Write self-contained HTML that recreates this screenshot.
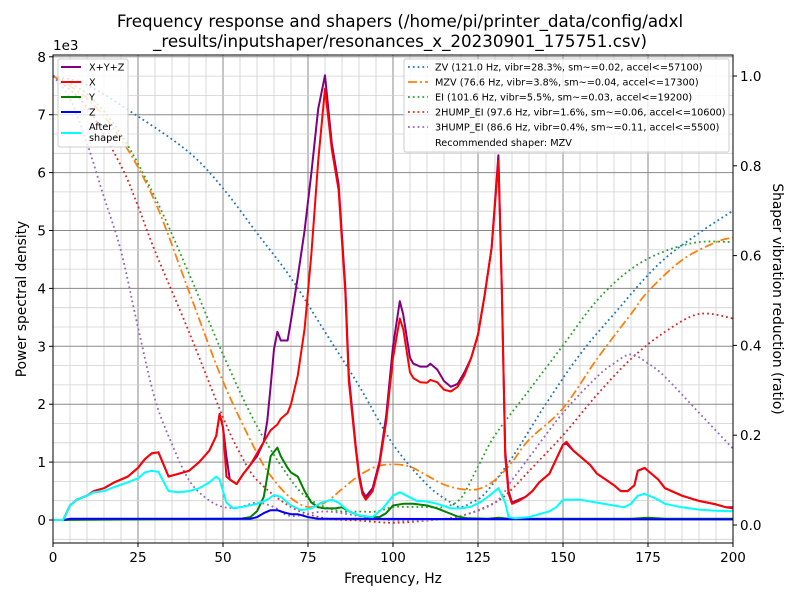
<!DOCTYPE html>
<html><head><meta charset="utf-8">
<style>
body{margin:0;background:#fff;}
svg{display:block;font-family:"DejaVu Sans","Liberation Sans",sans-serif;}
</style></head>
<body>
<svg id="chart" width="800" height="600" viewBox="0 0 800 600" xmlns="http://www.w3.org/2000/svg">
<rect width="800" height="600" fill="#fff"/>
<text x="400" y="27" font-size="16.7" text-anchor="middle">Frequency response and shapers (/home/pi/printer_data/config/adxl</text>
<text x="400" y="47" font-size="16.7" text-anchor="middle">_results/inputshaper/resonances_x_20230901_175751.csv)</text>
<g id="grid"></g>
<g id="marks"></g>
<g id="axes"></g>
<g id="legends"></g>
</svg>
<script>
// ---- data ----
const freqPsd = [0,3,5,7,10,12,15,18,22,25,27,29,31,34,37,40,43,46,48,49,50,51,52,54,56,58,60,62,63,64,65,66,67,69,70,72,74,76,78,80,82,84,86,87,89,90,91,92,94,96,98,100,102,103,105,106,108,110,111,113,115,117,119,121,123,125,127,129,131,132,133,134,135,137,139,141,143,146,148,150,151,153,155,158,160,163,165,167,169,171,172,174,176,178,180,185,190,195,198,200];
const psdXYZ = [0,0,0.25,0.35,0.42,0.5,0.55,0.65,0.75,0.9,1.05,1.15,1.17,0.75,0.8,0.85,1.0,1.2,1.45,1.83,1.6,1.1,0.7,0.62,0.8,0.95,1.1,1.35,1.7,2.3,2.95,3.25,3.1,3.1,3.45,4.2,5.0,6.0,7.1,7.68,6.5,5.8,4.0,2.5,1.3,0.8,0.5,0.4,0.55,1.0,1.8,3.0,3.78,3.55,2.8,2.7,2.65,2.65,2.7,2.6,2.4,2.3,2.35,2.55,2.8,3.2,3.9,4.7,6.3,4.0,1.2,0.5,0.3,0.35,0.4,0.5,0.65,0.8,1.05,1.3,1.32,1.2,1.1,0.95,0.8,0.68,0.6,0.5,0.5,0.6,0.85,0.9,0.8,0.7,0.55,0.42,0.33,0.27,0.22,0.22];
const psdX = [0,0,0.25,0.35,0.42,0.5,0.55,0.65,0.75,0.9,1.05,1.15,1.17,0.75,0.8,0.85,1.0,1.2,1.45,1.83,1.6,0.75,0.7,0.62,0.8,0.95,1.15,1.35,1.45,1.55,1.6,1.65,1.75,1.85,2.0,2.5,3.3,4.6,6.2,7.45,6.4,5.7,3.9,2.4,1.25,0.75,0.45,0.35,0.5,0.95,1.7,2.8,3.48,3.3,2.55,2.45,2.38,2.37,2.42,2.38,2.25,2.22,2.3,2.5,2.8,3.2,3.9,4.7,6.2,4.0,1.1,0.45,0.28,0.33,0.4,0.5,0.65,0.8,1.05,1.3,1.35,1.2,1.1,0.95,0.8,0.68,0.6,0.5,0.5,0.6,0.85,0.9,0.8,0.7,0.55,0.42,0.33,0.27,0.22,0.2];
const freqY = [0,55,58,60,62,63,64,66,67,69,70,72,74,76,78,80,83,85,87,90,93,96,98,100,103,106,110,113,116,119,122,128,131,134,150,170,175,180,200];
const psdY = [0,0.02,0.05,0.15,0.4,0.75,1.1,1.25,1.1,0.9,0.82,0.75,0.5,0.3,0.22,0.2,0.2,0.22,0.15,0.08,0.05,0.05,0.12,0.25,0.28,0.28,0.25,0.2,0.13,0.06,0.03,0.02,0.04,0.02,0.02,0.02,0.04,0.02,0.02];
const freqZ = [0,3,5,58,60,62,64,66,68,70,72,75,78,200];
const psdZ = [0,0,0.02,0.02,0.05,0.12,0.17,0.17,0.13,0.1,0.1,0.05,0.02,0.01];
const freqAfter = [0,3,5,7,10,12,15,18,22,25,27,29,31,34,37,40,43,46,48,49,51,53,56,60,63,65,67,70,73,76,79,82,84,87,90,94,97,100,102,104,107,110,113,117,120,123,126,129,131,133,134,136,140,143,146,148,150,155,160,165,168,170,172,174,177,180,185,190,195,200];
const psdAfter = [0,0,0.25,0.35,0.42,0.48,0.5,0.57,0.65,0.72,0.82,0.85,0.83,0.5,0.48,0.5,0.55,0.65,0.75,0.7,0.3,0.2,0.23,0.28,0.35,0.43,0.4,0.25,0.17,0.2,0.3,0.35,0.3,0.15,0.08,0.05,0.2,0.42,0.48,0.42,0.33,0.32,0.28,0.2,0.2,0.23,0.32,0.45,0.55,0.3,0.05,0.03,0.05,0.1,0.15,0.22,0.35,0.35,0.3,0.25,0.22,0.28,0.42,0.45,0.38,0.28,0.22,0.18,0.16,0.15];
const freqZV = [0,10,25,40,50,60,70,80,90,100,110,117,120,123,127,135,145,155,165,178,190,200];
const shZV = [1.0,0.98,0.91,0.83,0.75,0.65,0.55,0.43,0.31,0.18,0.09,0.05,0.04,0.05,0.07,0.15,0.27,0.38,0.47,0.58,0.65,0.70];
const freqMZV = [0,10,20,30,40,50,60,65,70,75,80,85,90,95,100,105,110,115,120,125,130,135,140,150,160,170,175,185,195,200];
const shMZV = [1.0,0.95,0.86,0.72,0.52,0.32,0.16,0.1,0.06,0.04,0.05,0.08,0.11,0.13,0.135,0.13,0.11,0.09,0.08,0.08,0.1,0.14,0.19,0.26,0.37,0.47,0.52,0.59,0.63,0.64];
const freqEI = [0,10,20,30,40,50,60,70,75,80,85,90,95,100,105,110,115,120,125,130,140,150,160,170,180,190,200];
const shEI = [1.0,0.96,0.87,0.73,0.56,0.38,0.22,0.1,0.06,0.04,0.03,0.03,0.03,0.04,0.04,0.04,0.04,0.06,0.13,0.2,0.3,0.4,0.5,0.57,0.61,0.63,0.63];
const freq2H = [0,10,20,25,30,40,50,55,60,70,80,90,100,110,120,130,135,140,150,160,170,180,190,200];
const sh2H = [1.0,0.93,0.8,0.71,0.61,0.43,0.24,0.16,0.1,0.04,0.015,0.01,0.005,0.01,0.02,0.05,0.08,0.12,0.2,0.29,0.37,0.43,0.47,0.46];
const freq3H = [0,5,10,15,20,25,30,35,40,45,50,55,60,65,70,80,90,100,110,120,130,135,140,150,160,165,170,175,180,190,200];
const sh3H = [1.0,0.95,0.85,0.73,0.61,0.44,0.28,0.18,0.1,0.06,0.04,0.04,0.05,0.04,0.02,0.03,0.02,0.01,0.01,0.02,0.05,0.1,0.15,0.25,0.33,0.36,0.38,0.36,0.33,0.25,0.17];
const xTicks = [0,25,50,75,100,125,150,175,200];
const yTicks = [0,1,2,3,4,5,6,7,8];
const rTicks = [0,0.2,0.4,0.6,0.8,1.0];

// ---- scales ----
const L=53,R=733,T=55,B=543;
const xs = f => L + f*3.4;
const ys = v => 520 - v*57.9;
const rs = r => 525 - r*449;
const NS="http://www.w3.org/2000/svg";
function mk(tag, attrs, parent){const e=document.createElementNS(NS,tag);for(const k in attrs)e.setAttribute(k,attrs[k]);parent.appendChild(e);return e;}
const grid=document.getElementById('grid'), marks=document.getElementById('marks'), axes=document.getElementById('axes'), leg=document.getElementById('legends');

// grid
for(let f=0;f<=200;f+=5){
  const major = f%25===0;
  const g=mk('line',{x1:xs(f),x2:xs(f),y1:T,y2:B,stroke:major?'#8a8a8a':'#d0d0d0','stroke-width':major?1:0.8},grid);
  
  
}
for(let i=-1;i<=24;i++){
  const v=i/3; const y=ys(v); if(y<T||y>B) continue;
  const major = i%3===0;
  const g=mk('line',{x1:L,x2:R,y1:y,y2:y,stroke:major?'#8a8a8a':'#d0d0d0','stroke-width':major?1:0.8},grid);
  
  
}

function line(fs, vs, sc, color, w, dash, name, smooth){
  const P = fs.map((f,i)=>[xs(f), sc(vs[i])]);
  let d = 'M'+P[0][0].toFixed(1)+','+P[0][1].toFixed(1);
  for(let i=1;i<P.length;i++){
    if(smooth){
      const p0=P[Math.max(0,i-2)],p1=P[i-1],p2=P[i],p3=P[Math.min(P.length-1,i+1)];
      const c1=[p1[0]+(p2[0]-p0[0])/6,p1[1]+(p2[1]-p0[1])/6];
      const c2=[p2[0]-(p3[0]-p1[0])/6,p2[1]-(p3[1]-p1[1])/6];
      d+='C'+c1[0].toFixed(1)+','+c1[1].toFixed(1)+' '+c2[0].toFixed(1)+','+c2[1].toFixed(1)+' '+p2[0].toFixed(1)+','+p2[1].toFixed(1);
    } else d+='L'+P[i][0].toFixed(1)+','+P[i][1].toFixed(1);
  }
  const p=mk('path',{d:d,fill:'none',stroke:color,'stroke-width':w,'stroke-linejoin':'round'},marks);
  if(dash) p.setAttribute('stroke-dasharray',dash);
  
  
}
const DOT='1.8 3';
// shapers (right axis)
line(freqZV,shZV,rs,'#1f77b4',1.8,DOT,'shaper-zv-line',true);
line(freqMZV,shMZV,rs,'#ff7f0e',1.8,'9 3 2 3','shaper-mzv-line',true);
line(freqEI,shEI,rs,'#2ca02c',1.8,DOT,'shaper-ei-line',true);
line(freq2H,sh2H,rs,'#d62728',1.8,DOT,'shaper-2hump-ei-line',true);
line(freq3H,sh3H,rs,'#9467bd',1.8,DOT,'shaper-3hump-ei-line',true);
// psd (left axis)
line(freqPsd,psdXYZ,ys,'purple',2,null,'psd-xyz-line');
line(freqPsd,psdX,ys,'red',2,null,'psd-x-line');
line(freqY,psdY,ys,'green',2,null,'psd-y-line');
line(freqZ,psdZ,ys,'blue',2,null,'psd-z-line');
line(freqAfter,psdAfter,ys,'cyan',2,null,'psd-after-shaper-line');

// frame
const fr=mk('rect',{x:L,y:T,width:R-L,height:B-T,fill:'none',stroke:'#000','stroke-width':1},axes);


xTicks.forEach(t=>{
  mk('line',{x1:xs(t),x2:xs(t),y1:B,y2:B+4,stroke:'#000'},axes);
  const tx=mk('text',{x:xs(t),y:B+19,'font-size':13.5,'text-anchor':'middle'},axes);
  tx.textContent=t;
  
  
});
yTicks.forEach(t=>{
  mk('line',{x1:L-4,x2:L,y1:ys(t),y2:ys(t),stroke:'#000'},axes);
  const tx=mk('text',{x:L-7,y:ys(t)+5,'font-size':13.5,'text-anchor':'end'},axes);
  tx.textContent=t;
  
  
});
rTicks.forEach(t=>{
  mk('line',{x1:R,x2:R+4,y1:rs(t),y2:rs(t),stroke:'#000'},axes);
  const tx=mk('text',{x:R+7,y:rs(t)+5,'font-size':13.5,'text-anchor':'start'},axes);
  tx.textContent=t.toFixed(1);
  
  
});
</script>
<script>
(function(){
const NS="http://www.w3.org/2000/svg";
const svg=document.getElementById('chart');
function t(x,y,s,txt,name,extra){const e=document.createElementNS(NS,'text');e.setAttribute('x',x);e.setAttribute('y',y);e.setAttribute('font-size',s);if(extra)for(const k in extra)e.setAttribute(k,extra[k]);e.textContent=txt;svg.appendChild(e);


return e;}
t(53,50,13.5,'1e3','y-scale-multiplier');
t(393,583,13.8,'Frequency, Hz','x-axis-title',{'text-anchor':'middle'});
t(26,299,13.8,'Power spectral density','y-axis-title',{'text-anchor':'middle',transform:'rotate(-90 26 299)'});
t(773,299,13.8,'Shaper vibration reduction (ratio)','right-axis-title',{'text-anchor':'middle',transform:'rotate(90 773 299)'});
const lg=document.getElementById('legends');
function r(x,y,w,h,name){const e=document.createElementNS(NS,'rect');e.setAttribute('x',x);e.setAttribute('y',y);e.setAttribute('width',w);e.setAttribute('height',h);e.setAttribute('rx',2);e.setAttribute('fill','rgba(255,255,255,0.8)');e.setAttribute('stroke','#ccc');lg.appendChild(e);

}
function l(x1,y,color,dash,name){const e=document.createElementNS(NS,'line');e.setAttribute('x1',x1);e.setAttribute('x2',x1+20);e.setAttribute('y1',y);e.setAttribute('y2',y);e.setAttribute('stroke',color);e.setAttribute('stroke-width',dash?1.8:2);if(dash){e.setAttribute('stroke-dasharray',dash);}lg.appendChild(e);

}
r(58,59,70,88,'psd-legend-box');
const items=[['X+Y+Z','purple',67],['X','red',82],['Y','green',97],['Z','blue',112]];
items.forEach(it=>{l(61,it[2],it[1],null,'legend-swatch');t(89,it[2]+3.5,9.7,it[0],'legend-entry');});
l(61,133,'cyan',null,'legend-swatch');
t(89,130,9.7,'After','legend-entry');
t(89,141,9.7,'shaper','legend-entry');
r(404,59,325,93,'shaper-legend-box');
const sh=[['ZV (121.0 Hz, vibr=28.3%, sm~=0.02, accel<=57100)','#1f77b4','1.8 3'],
['MZV (76.6 Hz, vibr=3.8%, sm~=0.04, accel<=17300)','#ff7f0e','9 3 2 3'],
['EI (101.6 Hz, vibr=5.5%, sm~=0.03, accel<=19200)','#2ca02c','1.8 3'],
['2HUMP_EI (97.6 Hz, vibr=1.6%, sm~=0.06, accel<=10600)','#d62728','1.8 3'],
['3HUMP_EI (86.6 Hz, vibr=0.4%, sm~=0.11, accel<=5500)','#9467bd','1.8 3']];
sh.forEach((s,i)=>{const y=67+i*15;l(408,y,s[1],s[2],'shaper-legend-swatch');t(435,y+3.5,9.7,s[0],'shaper-legend-entry');});
t(435,146,9.7,'Recommended shaper: MZV','recommended-shaper-text');
})();
</script>
</body></html>
